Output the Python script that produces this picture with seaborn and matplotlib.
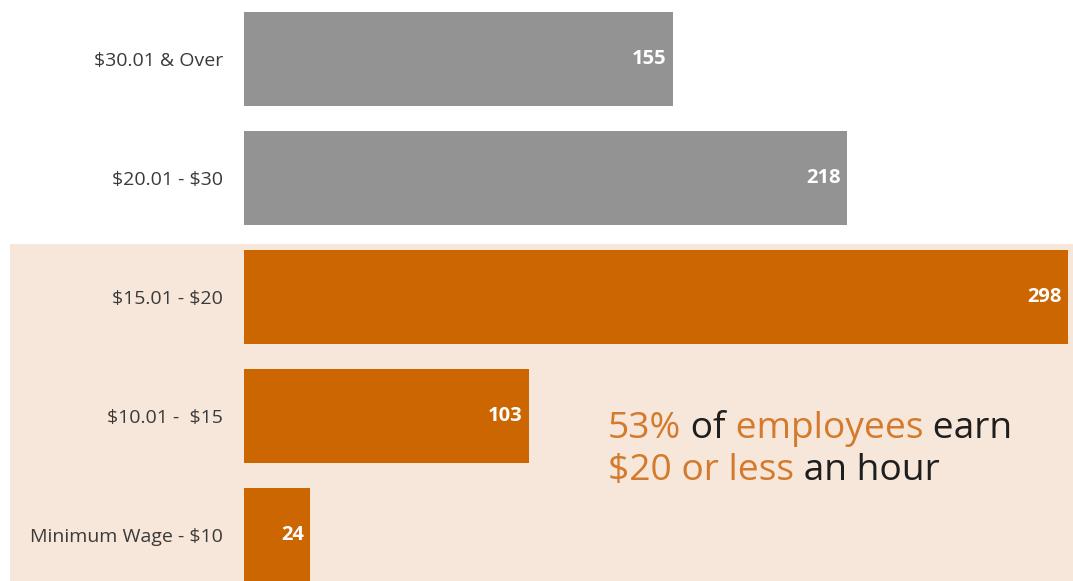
import matplotlib
matplotlib.use("Agg")
import matplotlib.pyplot as plt
from matplotlib.patches import Rectangle
import seaborn as sns
import pandas as pd

# Hourly wage bands and employee counts
categories = ["$30.01 & Over", "$20.01 - $30", "$15.01 - $20", "$10.01 -  $15", "Minimum Wage - $10"]
employees = [155, 218, 298, 103, 24]
band_colors = ["#939393", "#939393", "#CC6600", "#CC6600", "#CC6600"]

GRAY_TXT = "#3a3a3a"
ORANGE_TXT = "#D47A2C"
DARK_TXT = "#1e1e1e"
PEACH = "#F7E7DA"

sns.set_theme(style="white")
plt.rcParams["font.family"] = ["Open Sans", "DejaVu Sans"]
plt.rcParams["text.parse_math"] = False

W, H = 1073, 581
fig = plt.figure(figsize=(W / 100, H / 100), dpi=100)
fig.patch.set_facecolor("white")

# shaded band behind the $20-and-under rows
fig.add_artist(Rectangle((10 / W, 0), 1 - 10 / W, (H - 244) / H,
                         transform=fig.transFigure, facecolor=PEACH,
                         edgecolor="none", zorder=-1))

ax = fig.add_axes([244 / W, 0, (W - 244) / W, 1])
ax.patch.set_alpha(0)

df = pd.DataFrame({"band": categories, "employees": employees})
sns.barplot(data=df, x="employees", y="band", hue="band", palette=band_colors,
            orient="h", width=0.79, legend=False, ax=ax, saturation=1,
            linewidth=0)

ax.set_xlim(0, (W - 244) / 2.765)
ax.set_ylim(4.387, -0.496)
ax.set_xlabel("")
ax.set_ylabel("")
ax.set_xticks([])
sns.despine(ax=ax, left=True, bottom=True)
ax.tick_params(axis="y", length=0, pad=15)
for lbl in ax.get_yticklabels():
    lbl.set_fontsize(14)
    lbl.set_color(GRAY_TXT)

# value labels inside the bar ends
for i, v in enumerate(employees):
    ax.annotate(str(v), xy=(v, i), xytext=(-4.5, 0), textcoords="offset points",
                ha="right", va="center", color="white", fontsize=14.5,
                fontweight="bold")

# callout with mixed colours
lines = [
    [("53%", ORANGE_TXT), (" of", DARK_TXT), (" employees", ORANGE_TXT), (" earn", DARK_TXT)],
    [("$20 or less", ORANGE_TXT), (" an hour", DARK_TXT)],
]
baselines = [438 / H, 480 / H]
for parts, yb in zip(lines, baselines):
    prev = None
    for txt, col in parts:
        if prev is None:
            prev = fig.text(608 / W, 1 - yb, txt, color=col, fontsize=26.7,
                            ha="left", va="baseline")
        else:
            prev = ax.annotate(txt, xy=(1, 0), xycoords=prev, color=col,
                               fontsize=26.7, ha="left", va="bottom")

fig.savefig("out.png", dpi=100)
